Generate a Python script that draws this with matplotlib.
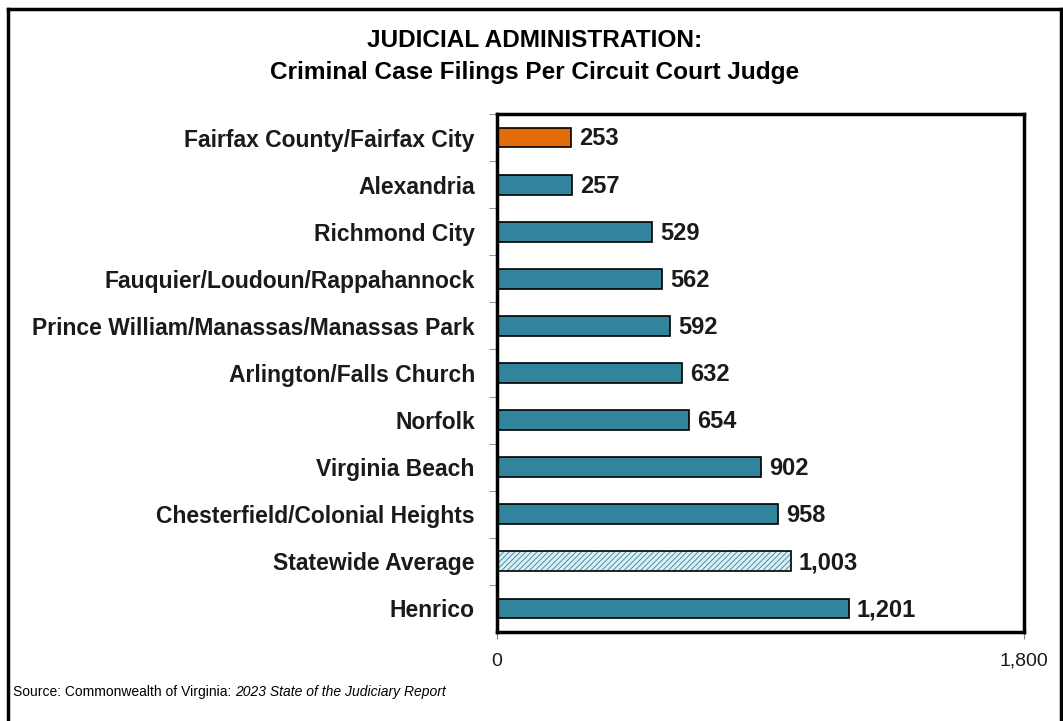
import matplotlib.pyplot as plt
from matplotlib.lines import Line2D

# data, top to bottom as shown
labels = ['Fairfax County/Fairfax City', 'Alexandria', 'Richmond City',
          'Fauquier/Loudoun/Rappahannock', 'Prince William/Manassas/Manassas Park',
          'Arlington/Falls Church', 'Norfolk', 'Virginia Beach',
          'Chesterfield/Colonial Heights', 'Statewide Average', 'Henrico']
filings = [253, 257, 529, 562, 592, 632, 654, 902, 958, 1003, 1201]
xticks = [0, 1800]

teal = '#31849B'
orange = '#E36C09'

plt.rcParams['font.family'] = ['Liberation Sans', 'DejaVu Sans']
plt.rcParams['hatch.linewidth'] = 0.6

fig = plt.figure(figsize=(10.63, 7.21), dpi=100)
ax = fig.add_axes([0.4676, 0.1234, 0.4957, 0.7185])

pos = list(range(len(labels)))
colors = [orange if l.startswith('Fairfax') else teal for l in labels]
bars = ax.barh(pos, filings, height=0.42, color=colors, edgecolor='black', linewidth=1.2)
# statewide average bar: light hatched
i_avg = labels.index('Statewide Average')
bars[i_avg].set_facecolor('#DCEFF5')
bars[i_avg].set_hatch('//////')
bars[i_avg].set_edgecolor(teal)
bars[i_avg].set_linewidth(0)
ax.barh(pos[i_avg], filings[i_avg], height=0.42, fill=False, edgecolor='black', linewidth=1.2)

for p, v in zip(pos, filings):
    ax.text(v + 28, p + 0.03, f'{v:,}', va='center', ha='left', fontsize=17, fontweight='bold',
            color='#1a1a1a')

ax.set_xlim(0, 1800)
ax.set_ylim(len(labels) - 0.5, -0.5)
ax.set_xticks(xticks)
ax.set_xticklabels([f'{t:,}' for t in xticks], fontsize=14, color='#1a1a1a')
ax.tick_params(axis='x', length=5, color='gray', pad=10)
ax.set_yticks(pos)
ax.set_yticklabels(labels, fontsize=16.5, fontweight='bold', color='#1a1a1a')
ax.tick_params(axis='y', length=0, pad=16)
ax.set_yticks([p + 0.5 for p in pos[:-1]] + [-0.5], minor=True)
ax.tick_params(axis='y', which='minor', length=6, color='gray')
for s in ax.spines.values():
    s.set_linewidth(2.5)
    s.set_color('black')

fig.text(0.503, 0.944, 'JUDICIAL ADMINISTRATION:', ha='center', va='center',
         fontsize=17.6, fontweight='bold')
fig.text(0.503, 0.899, 'Criminal Case Filings Per Circuit Court Judge', ha='center', va='center',
         fontsize=17.6, fontweight='bold')

src = fig.text(0.012, 0.040, 'Source: Commonwealth of Virginia: ', ha='left', va='center',
               fontsize=10)
fig.add_artist(plt.Annotation('2023 State of the Judiciary Report', xy=(1, 0.5),
                              xycoords=src, ha='left', va='center', fontsize=10,
                              style='italic'))

# outer border (open at the bottom)
kw = dict(transform=fig.transFigure, color='black', linewidth=2.5)
fig.add_artist(Line2D([0.0075, 0.0075], [0.0, 0.9875], **kw))
fig.add_artist(Line2D([0.0075, 0.998], [0.9875, 0.9875], **kw))
fig.add_artist(Line2D([0.998, 0.998], [0.0, 0.9875], **kw))

fig.savefig('out.png', dpi=100)
